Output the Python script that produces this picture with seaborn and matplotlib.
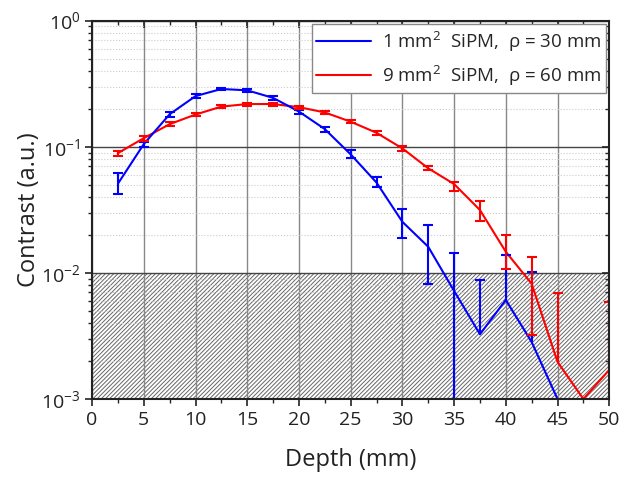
import matplotlib
matplotlib.use('Agg')
import matplotlib.pyplot as plt
from matplotlib.ticker import LogLocator, MultipleLocator, NullFormatter
import seaborn as sns
import pandas as pd
import numpy as np

# Depth (mm)
depth_blue = [2.5, 5, 7.5, 10, 12.5, 15, 17.5, 20, 22.5, 25, 27.5, 30, 32.5, 35, 37.5, 40, 42.5, 45]
contrast_blue = [0.051, 0.105, 0.181, 0.252, 0.287, 0.280, 0.244, 0.190, 0.138, 0.087, 0.052,
                 0.0254, 0.0161, 0.0072, 0.00326, 0.0061, 0.00283, 0.001]
blue_low = [0.042, 0.100, 0.172, 0.244, 0.280, 0.272, 0.236, 0.183, 0.132, 0.081, 0.0477,
            0.019, 0.0081, 0.0005, 0.00326, 0.0061, 0.00283, 0.001]
blue_high = [0.062, 0.110, 0.190, 0.260, 0.294, 0.288, 0.252, 0.197, 0.144, 0.094, 0.0578,
             0.032, 0.024, 0.0145, 0.0087, 0.0139, 0.0102, 0.001]

depth_red = [2.5, 5, 7.5, 10, 12.5, 15, 17.5, 20, 22.5, 25, 27.5, 30, 32.5, 35, 37.5, 40, 42.5, 45, 47.5, 50]
contrast_red = [0.089, 0.117, 0.151, 0.180, 0.208, 0.218, 0.218, 0.206, 0.187, 0.158, 0.129,
                0.097, 0.0675, 0.0506, 0.0315, 0.0147, 0.0082, 0.00197, 0.001, 0.0017]
red_low = [0.085, 0.112, 0.146, 0.175, 0.202, 0.212, 0.212, 0.200, 0.181, 0.153, 0.124,
           0.093, 0.065, 0.0448, 0.0256, 0.0107, 0.0032, 0.00197, 0.001, 0.0017]
red_high = [0.093, 0.122, 0.156, 0.185, 0.214, 0.224, 0.224, 0.212, 0.193, 0.163, 0.134,
            0.101, 0.070, 0.053, 0.037, 0.0199, 0.0133, 0.00698, 0.001, 0.0059]

label_blue = r'1 mm$^2$  SiPM,  ρ = 30 mm'
label_red = r'9 mm$^2$  SiPM,  ρ = 60 mm'

sns.set_theme(style='white')
plt.rcParams['font.family'] = ['Open Sans', 'DejaVu Sans']
plt.rcParams['mathtext.fontset'] = 'custom'
plt.rcParams['mathtext.rm'] = 'Open Sans'
plt.rcParams['hatch.color'] = '#666666'
plt.rcParams['hatch.linewidth'] = 0.7

df_blue = pd.DataFrame({'depth': depth_blue, 'contrast': contrast_blue})
df_red = pd.DataFrame({'depth': depth_red, 'contrast': contrast_red})

fig = plt.figure(figsize=(6.44, 4.79), dpi=100)
ax = fig.add_axes([0.143, 0.167, 0.803, 0.790])

# shaded noise floor region
ax.fill_between([0, 50], [1e-3, 1e-3], [1e-2, 1e-2], facecolor='white',
                hatch='////////', edgecolor='#666666', linewidth=0, zorder=1)

sns.lineplot(data=df_blue, x='depth', y='contrast', color='#0000ff', linewidth=1.5,
             label=label_blue, ax=ax, zorder=4)
sns.lineplot(data=df_red, x='depth', y='contrast', color='#ff0000', linewidth=1.5,
             label=label_red, ax=ax, zorder=3)

# error bars: caps only where the bar actually extends from the point
for d, v, lo, hi, c in [(depth_blue, contrast_blue, blue_low, blue_high, '#0000ff'),
                        (depth_red, contrast_red, red_low, red_high, '#ff0000')]:
    d, v, lo, hi = map(np.array, (d, v, lo, hi))
    ax.vlines(d, lo, hi, color=c, linewidth=1.5, zorder=4)
    up = hi > v
    dn = lo < v
    ax.plot(d[up], hi[up], linestyle='none', marker='_', markersize=7, mew=1.5, color=c, zorder=4)
    ax.plot(d[dn], lo[dn], linestyle='none', marker='_', markersize=7, mew=1.5, color=c, zorder=4)

ax.set_yscale('log')
ax.set_xlim(0, 50)
ax.set_ylim(1e-3, 1)
ax.xaxis.set_major_locator(MultipleLocator(5))
ax.xaxis.set_minor_locator(MultipleLocator(2.5))
ax.yaxis.set_major_locator(LogLocator(base=10))
ax.yaxis.set_minor_locator(LogLocator(base=10, subs=np.arange(2, 10)))
ax.yaxis.set_minor_formatter(NullFormatter())

ax.grid(True, which='major', axis='x', color='#888888', linewidth=1.0, zorder=2)
ax.grid(True, which='major', axis='y', color='#444444', linewidth=1.0, zorder=2)
ax.grid(True, which='minor', axis='y', color='#cccccc', linewidth=0.8, linestyle=':', zorder=2)
ax.set_axisbelow(False)

for s in ax.spines.values():
    s.set_color('#222222')
    s.set_linewidth(1.5)
    s.set_zorder(6)

ax.tick_params(axis='both', which='major', direction='out', length=5, width=1.2,
               labelsize=14, colors='#222222', bottom=True, left=True)
ax.tick_params(axis='both', which='minor', direction='out', length=3, width=1,
               bottom=True, left=True)
ax.tick_params(axis='both', which='both', top=True, right=True)
for t in ax.xaxis.get_major_ticks() + ax.xaxis.get_minor_ticks():
    t.tick2line.set_marker(3)
for t in ax.yaxis.get_major_ticks() + ax.yaxis.get_minor_ticks():
    t.tick2line.set_marker(0)

ax.set_xlabel('Depth (mm)', fontsize=17, color='#222222', labelpad=14)
ax.set_ylabel('Contrast (a.u.)', fontsize=17, color='#222222', labelpad=0)

leg = ax.legend(loc='upper right', bbox_to_anchor=(0.997, 0.995), fontsize=13.5,
                handlelength=2.9, frameon=True, fancybox=False, framealpha=1,
                edgecolor='#888888', borderpad=0.25, labelspacing=0.5, handletextpad=0.6,
                borderaxespad=0.1)
leg.get_frame().set_linewidth(1.0)
leg.set_zorder(7)

fig.savefig('out.png', dpi=100)
